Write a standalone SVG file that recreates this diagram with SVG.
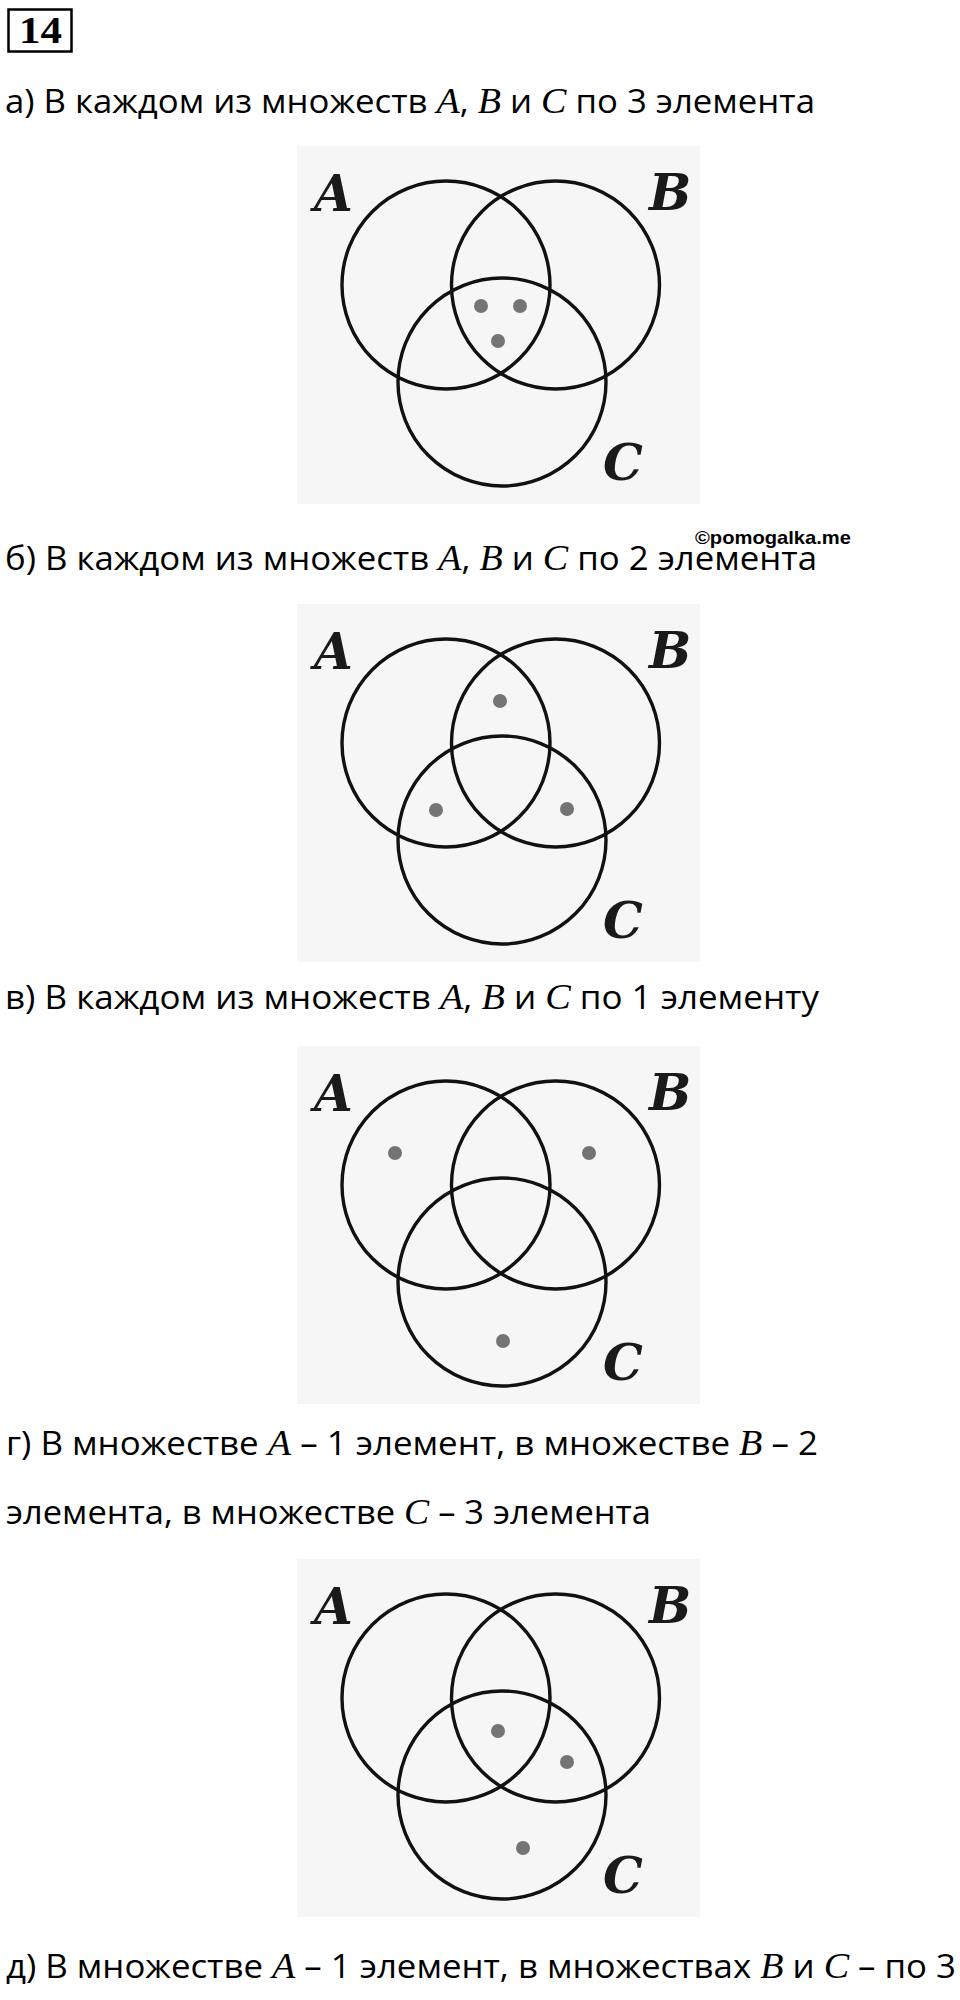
<svg xmlns="http://www.w3.org/2000/svg" width="960" height="2000" viewBox="0 0 960 2000">
<style>
.t { font-family: "Open Sans", "Noto Sans", sans-serif; font-size: 32px; fill: #000; }
.m { font-family: "Liberation Serif", "Times New Roman", serif; font-style: italic; font-size: 35px; }
.lbl { font-family: "DejaVu Serif", "Liberation Serif", serif; font-weight: bold; font-style: italic; font-size: 50px; fill: #1a1a1a; }
.c { fill: none; stroke: #111; stroke-width: 3.4; }
.d { fill: #747474; }
.bg { fill: #f6f6f6; }
.wm { font-family: "Liberation Sans", Arial, sans-serif; font-weight: bold; font-size: 19px; fill: #000; }
.num { font-family: "Liberation Serif", "Times New Roman", serif; font-weight: bold; font-size: 38px; fill: #000; }
</style>
<rect width="960" height="2000" fill="#ffffff"/>

<g id="title">
  <rect x="8.5" y="9.5" width="63" height="42" fill="none" stroke="#000" stroke-width="2.5"/>
  <text class="num" x="19" y="43" textLength="43" lengthAdjust="spacingAndGlyphs">14</text>
</g>

<g id="line-a">
  <text class="t" x="5" y="113" textLength="810" lengthAdjust="spacingAndGlyphs">а) В каждом из множеств <tspan class="m">A</tspan>, <tspan class="m">B</tspan> и <tspan class="m">C</tspan> по 3 элемента</text>
</g>

<g id="panel-a">
  <rect class="bg" x="297" y="146" width="403" height="358"/>
  <circle id="a-A" class="c" cx="446" cy="285" r="104"/>
  <circle id="a-B" class="c" cx="555.5" cy="285" r="104"/>
  <circle id="a-C" class="c" cx="502" cy="382" r="104"/>
  <text class="lbl" x="314" y="211">A</text>
  <text class="lbl" x="649" y="210">B</text>
  <text class="lbl" x="603" y="480">C</text>
  <circle class="d" cx="481" cy="306" r="7"/>
  <circle class="d" cx="520" cy="306" r="7"/>
  <circle class="d" cx="498" cy="341" r="7"/>
</g>

<g id="watermark">
  <text class="wm" x="695" y="544" textLength="156" lengthAdjust="spacingAndGlyphs">©pomogalka.me</text>
</g>

<g id="line-b">
  <text class="t" x="5" y="570" textLength="812" lengthAdjust="spacingAndGlyphs">б) В каждом из множеств <tspan class="m">A</tspan>, <tspan class="m">B</tspan> и <tspan class="m">C</tspan> по 2 элемента</text>
</g>

<g id="panel-b" transform="translate(0,458)">
  <rect class="bg" x="297" y="146" width="403" height="358"/>
  <circle id="b-A" class="c" cx="446" cy="285" r="104"/>
  <circle id="b-B" class="c" cx="555.5" cy="285" r="104"/>
  <circle id="b-C" class="c" cx="502" cy="382" r="104"/>
  <text class="lbl" x="314" y="211">A</text>
  <text class="lbl" x="649" y="210">B</text>
  <text class="lbl" x="603" y="480">C</text>
  <circle class="d" cx="500" cy="243" r="7"/>
  <circle class="d" cx="436" cy="352" r="7"/>
  <circle class="d" cx="567" cy="351" r="7"/>
</g>

<g id="line-c">
  <text class="t" x="5" y="1009" textLength="814" lengthAdjust="spacingAndGlyphs">в) В каждом из множеств <tspan class="m">A</tspan>, <tspan class="m">B</tspan> и <tspan class="m">C</tspan> по 1 элементу</text>
</g>

<g id="panel-c" transform="translate(0,900)">
  <rect class="bg" x="297" y="146" width="403" height="358"/>
  <circle id="c-A" class="c" cx="446" cy="285" r="104"/>
  <circle id="c-B" class="c" cx="555.5" cy="285" r="104"/>
  <circle id="c-C" class="c" cx="502" cy="382" r="104"/>
  <text class="lbl" x="314" y="211">A</text>
  <text class="lbl" x="649" y="210">B</text>
  <text class="lbl" x="603" y="480">C</text>
  <circle class="d" cx="395" cy="253" r="7"/>
  <circle class="d" cx="589" cy="253" r="7"/>
  <circle class="d" cx="503" cy="441" r="7"/>
</g>

<g id="line-d">
  <text class="t" x="6" y="1455" textLength="812" lengthAdjust="spacingAndGlyphs">г) В множестве <tspan class="m">A</tspan> – 1 элемент, в множестве <tspan class="m">B</tspan> – 2</text>
  <text class="t" x="6" y="1524" textLength="645" lengthAdjust="spacingAndGlyphs">элемента, в множестве <tspan class="m">C</tspan> – 3 элемента</text>
</g>

<g id="panel-d" transform="translate(0,1413)">
  <rect class="bg" x="297" y="146" width="403" height="358"/>
  <circle id="d-A" class="c" cx="446" cy="285" r="104"/>
  <circle id="d-B" class="c" cx="555.5" cy="285" r="104"/>
  <circle id="d-C" class="c" cx="502" cy="382" r="104"/>
  <text class="lbl" x="314" y="211">A</text>
  <text class="lbl" x="649" y="210">B</text>
  <text class="lbl" x="603" y="480">C</text>
  <circle class="d" cx="498" cy="318" r="7"/>
  <circle class="d" cx="567" cy="349" r="7"/>
  <circle class="d" cx="523" cy="435" r="7"/>
</g>

<g id="line-e">
  <text class="t" x="6" y="1978" textLength="950" lengthAdjust="spacingAndGlyphs">д) В множестве <tspan class="m">A</tspan> – 1 элемент, в множествах <tspan class="m">B</tspan> и <tspan class="m">C</tspan> – по 3</text>
</g>
</svg>
